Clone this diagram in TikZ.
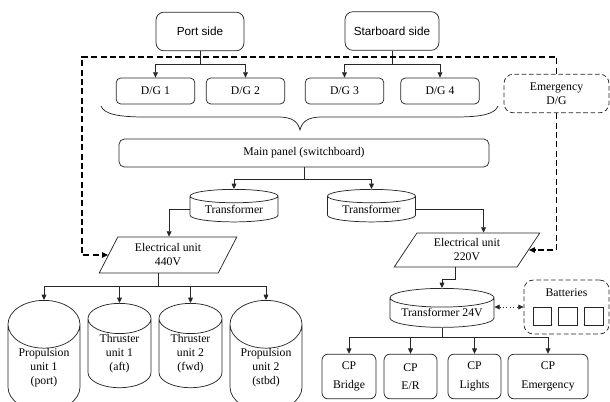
\documentclass[tikz,border=0pt]{standalone}
\usepackage{fontspec}
\setmainfont{Liberation Serif}
\setsansfont{Liberation Sans}
\usetikzlibrary{shapes.geometric, arrows.meta, calc}

\begin{document}
\begin{tikzpicture}[x=0.75pt,y=0.75pt,yscale=-1,xscale=1,
  every node/.style={font=\fontsize{8.8}{10.5}\selectfont, inner sep=1pt},
  wire/.style={line width=0.55pt, draw=black!85},
  arr/.style={wire, -{Triangle[length=4pt,width=3.6pt]}},
  dashline/.style={line width=0.9pt, dash pattern=on 4.5pt off 2.5pt, -{Triangle[length=4.5pt,width=4pt]}},
  sidebox/.style={wire, rounded corners=6pt, font=\sffamily\fontsize{8.8}{10.5}\selectfont, minimum width=#1, minimum height=29pt},
  dgbox/.style={wire, rounded corners=3.5pt, minimum width=59pt, minimum height=19.5pt},
  cpbox/.style={wire, rounded corners=4.5pt, minimum width=#1, minimum height=33.5pt, align=center},
  can/.style={wire, cylinder, shape border rotate=90, aspect=#1, align=center, inner sep=0pt, anchor=north},
  elbox/.style={wire, trapezium, trapezium stretches=true, align=center},
  emgbox/.style={wire, rounded corners=7pt, dash pattern=on 3.5pt off 2pt, align=center},
  cell/.style={wire, minimum size=13.75pt, inner sep=0pt}
]
\useasboundingbox (0,0) rectangle (610,401);

% Text Node
\draw (200,31.5) node [sidebox=66pt] (port) {Port side};
% Text Node
\draw (392,31) node [sidebox=70.5pt] (stbd) {Starboard side};

% Text Node
\draw (155.5,91) node [dgbox] (dg1) {D/G 1};
\draw (245.5,91) node [dgbox] (dg2) {D/G 2};
\draw (344.5,91) node [dgbox] (dg3) {D/G 3};
\draw (440,91) node [dgbox] (dg4) {D/G 4};
% Text Node
\draw (556.5,93.5) node [emgbox, minimum width=78.75pt, minimum height=29pt] (emdg) {Emergency\\D/G};

%Straight Lines
\draw [arr] (port.south) -- ++(0,13) -| (dg1.north);
\draw [arr] (port.south) -- ++(0,13) -| (dg2.north);
\draw [arr] (stbd.south) -- ++(0,14) -| (dg3.north);
\draw [arr] (stbd.south) -- ++(0,14) -| (dg4.north);

%Shape: Brace
\draw [wire] (101,106) .. controls (104,114) and (118,117) .. (145,117) -- (278,117) .. controls (293,117) and (298,122) .. (300,130) .. controls (302,122) and (307,117) .. (322,117) -- (455,117) .. controls (482,117) and (495,114) .. (498,106);

% Text Node
\draw (304,153) node [wire, rounded corners=4pt, minimum width=277.5pt, minimum height=21pt] (main) {Main panel (switchboard)};

%Shape: Can
\draw (234,189) node [can=0.23, minimum width=66pt, minimum height=24.4pt] (tr1) {Transformer};
\draw (371.5,189) node [can=0.23, minimum width=66pt, minimum height=24.4pt] (tr2) {Transformer};

%Straight Lines
\draw [arr] (main.south) -- ++(0,12) -| (tr1.north);
\draw [arr] (main.south) -- ++(0,12) -| (tr2.north);

%Shape: Parallelogram
\draw (168,255) node [elbox, trapezium left angle=63, trapezium right angle=117, minimum width=103.5pt, minimum height=27pt] (e440) {Electrical unit\\440V};
\draw (467,250) node [elbox, trapezium left angle=58, trapezium right angle=122, minimum width=109.5pt, minimum height=25.5pt] (e220) {Electrical unit\\220V};
\coordinate (e440w) at ($(e440.top left corner)!0.5!(e440.bottom left corner)$);
\coordinate (e220e) at ($(e220.top right corner)!0.5!(e220.bottom right corner)$);

%Straight Lines
\draw [arr] (tr1.west) -| ($(e440.top left corner)!0.43!(e440.top right corner)$);
\draw [arr] (tr2.east) -| ($(e220.top left corner)!0.54!(e220.top right corner)$);

%Straight Lines
\coordinate (dtl) at (82,57);
\draw [dashline] (emdg.north) |- (dtl) |- (e440w);
\draw [dashline] (emdg.south) |- (e220e);

%Shape: Can
\draw (44,300) node [can=0.94, minimum width=54pt, minimum height=68.6pt] (prop1) {Propulsion\\unit 1\\(port)};
\draw (119.5,303) node [can=0.76, minimum width=47.25pt, minimum height=60.75pt] (thr1) {Thruster\\unit 1\\(aft)};
\draw (190.5,303) node [can=0.76, minimum width=47.25pt, minimum height=60.75pt] (thr2) {Thruster\\unit 2\\(fwd)};
\draw (266,300) node [can=0.94, minimum width=54pt, minimum height=68.6pt] (prop2) {Propulsion\\unit 2\\(stbd)};

%Straight Lines
\coordinate (e440b) at ($(e440.bottom left corner)!0.5!(e440.bottom right corner)$);
\draw [wire, line width=1pt] (e440b) -- ++(0,13) coordinate (e440j);
\draw [arr] (e440j) -| (prop1.north);
\draw [arr] (e440j) -| (thr1.north);
\draw [arr] (e440j) -| (thr2.north);
\draw [arr] (e440j) -| (prop2.north);

%Shape: Can
\draw (442,288) node [can=0.23, minimum width=78pt, minimum height=29.25pt] (t24) {Transformer 24V};
\coordinate (e220b) at ($(e220.bottom left corner)!0.5!(e220.bottom right corner)$);
\draw [arr] (e220b) -- ++(0,12) -| (t24.north);

% Text Node
\draw (566.5,307) node [emgbox, minimum width=63.75pt, minimum height=40.5pt] (batt) {};
\draw (566.5,293) node (batttxt) {Batteries};
\draw (542.5,316.5) node [cell] (cell1) {};
\draw (568,316.5) node [cell] (cell2) {};
\draw (594,316.5) node [cell] (cell3) {};
\draw [wire, dotted, {Triangle[length=4pt,width=3.6pt]}-{Triangle[length=4pt,width=3.6pt]}] (t24.east |- batt.west) -- (batt.west);

% Text Node
\draw (349,376.5) node [cpbox=40.5pt] (cpb) {CP\\[3.5pt]Bridge};
\draw (410.5,376.5) node [cpbox=39.75pt] (cper) {CP\\[3.5pt]E/R};
\draw (474.5,376.5) node [cpbox=39.75pt] (cpl) {CP\\[3.5pt]Lights};
\draw (548,376.5) node [cpbox=60pt] (cpe) {CP\\[3.5pt]Emergency};

%Straight Lines
\draw [arr] (t24.south) -- ++(0,10) -| (cpb.north);
\draw [arr] (t24.south) -- ++(0,10) -| (cper.north);
\draw [arr] (t24.south) -- ++(0,10) -| (cpl.north);
\draw [arr] (t24.south) -- ++(0,10) -| (cpe.north);

\end{tikzpicture}
\end{document}
